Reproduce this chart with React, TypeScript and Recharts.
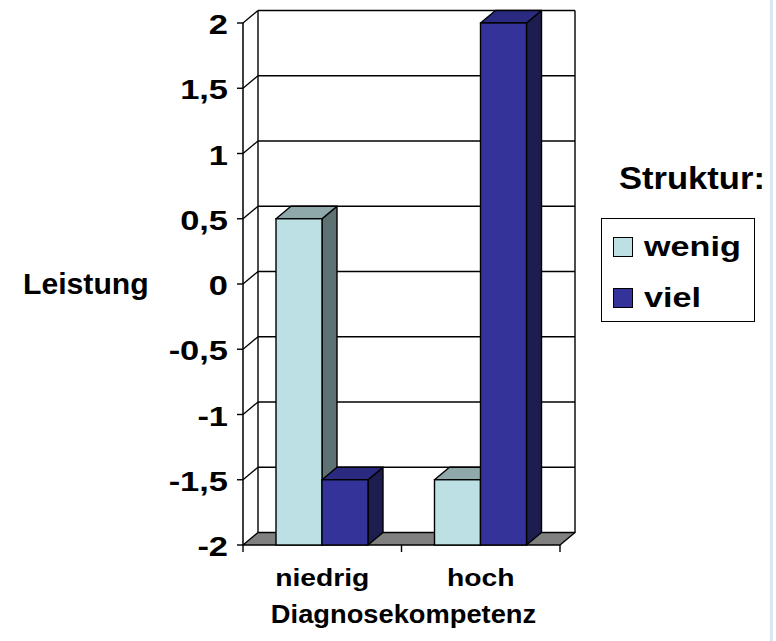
import React from 'react';
import { BarChart, Bar, XAxis, YAxis, CartesianGrid, Legend } from 'recharts';

// ---- data ----
const categories = ['niedrig', 'hoch'];
const wenigValues = [0.5, -1.5];
const vielValues = [-1.5, 2];
const seriesNames = ['wenig', 'viel'];
const yTicks = [-2, -1.5, -1, -0.5, 0, 0.5, 1, 1.5, 2];
const yMin = -2;
const yMax = 2;
const yTitle = 'Leistung';
const xTitle = 'Diagnosekompetenz';
const legendTitle = 'Struktur:';

const data = categories.map((c, i) => ({
  category: c,
  wenig: [yMin, wenigValues[i]],
  viel: [yMin, vielValues[i]],
}));

// ---- style ----
const FONT = '"Liberation Sans", Arial, Helvetica, sans-serif';
const DX = 15;
const DY = 12.5;
const X_TICK_SIZE = 7;
const X_TICK_MARGIN = 18;
const CHART_SX = 1.23; // horizontal stretch of chart-object texts

const palette: Record<string, { front: string; top: string; side: string }> = {
  wenig: { front: '#BCE0E3', top: '#8FA9AB', side: '#5E7173' },
  viel: { front: '#333399', top: '#2A2A80', side: '#1D1D4F' },
};

const fmt = (v: number) => String(v).replace('.', ',');

const makeBarShape = (name: string) => (props: any) => {
  const c = palette[name];
  const { x, y, width, height } = props;
  if (width == null || height == null) return null;
  const top = y;
  const bottom = y + height;
  const r = x + width;
  const sw = 1.4;
  return (
    <g>
      <polygon
        points={`${r},${top} ${r + DX},${top - DY} ${r + DX},${bottom - DY} ${r},${bottom}`}
        fill={c.side}
        stroke="#000"
        strokeWidth={sw}
        strokeLinejoin="round"
      />
      <polygon
        points={`${x},${top} ${x + DX},${top - DY} ${r + DX},${top - DY} ${r},${top}`}
        fill={c.top}
        stroke="#000"
        strokeWidth={sw}
        strokeLinejoin="round"
      />
      <rect x={x} y={top} width={width} height={height} fill={c.front} stroke="#000" strokeWidth={sw} />
    </g>
  );
};

const GridLine = (props: any) => {
  const { x1, y1, x2, horizontalPoints } = props;
  let top = props.y;
  let bottom = props.y != null && props.height != null ? props.y + props.height : undefined;
  if (top == null || bottom == null) {
    top = Math.min(...horizontalPoints);
    bottom = Math.max(...horizontalPoints);
  }
  const isBottom = Math.abs(y1 - bottom) < 0.5;
  const isTop = Math.abs(y1 - top) < 0.5;
  const els: any[] = [];
  if (isBottom) {
    els.push(
      <polygon
        key="floor"
        points={`${x1},${y1} ${x2},${y1} ${x2 + DX},${y1 - DY} ${x1 + DX},${y1 - DY}`}
        fill="#808080"
        stroke="#000"
        strokeWidth={1.4}
        strokeLinejoin="round"
      />
    );
  } else {
    els.push(<line key="h" x1={x1 + DX} y1={y1 - DY} x2={x2 + DX} y2={y1 - DY} stroke="#000" strokeWidth={1.3} />);
    els.push(<line key="d" x1={x1} y1={y1} x2={x1 + DX} y2={y1 - DY} stroke="#000" strokeWidth={1.3} />);
  }
  if (isTop) {
    els.push(<line key="lw" x1={x1 + DX} y1={top - DY} x2={x1 + DX} y2={bottom - DY} stroke="#000" strokeWidth={1.4} />);
    els.push(<line key="rw" x1={x2 + DX} y1={top - DY} x2={x2 + DX} y2={bottom - DY} stroke="#000" strokeWidth={1.4} />);
  }
  return <g key={props.key}>{els}</g>;
};

const StretchText = ({ x, y, sx, anchor, size, dy, children }: any) => (
  <g transform={`translate(${x},${y}) scale(${sx},1)`}>
    <text x={0} y={0} dy={dy} textAnchor={anchor} fontFamily={FONT} fontWeight="bold" fontSize={size} fill="#000">
      {children}
    </text>
  </g>
);

const XTick = (props: any) => {
  const { x, y, payload, index, visibleTicksCount } = props;
  const half = payload && payload.offset ? payload.offset : 0;
  const axisY = y - X_TICK_SIZE - X_TICK_MARGIN;
  const last = index === (visibleTicksCount ?? categories.length) - 1;
  return (
    <g>
      <line x1={x - half} y1={axisY} x2={x - half} y2={axisY + X_TICK_SIZE} stroke="#000" strokeWidth={1.4} />
      {last && (
        <line x1={x + half} y1={axisY} x2={x + half} y2={axisY + X_TICK_SIZE} stroke="#000" strokeWidth={1.4} />
      )}
      <StretchText x={x} y={y} sx={CHART_SX} anchor="middle" size={23} dy="0.71em">
        {payload.value}
      </StretchText>
    </g>
  );
};

const YTick = (props: any) => {
  const { x, y, payload } = props;
  return (
    <StretchText x={x} y={y + 1} sx={CHART_SX} anchor="end" size={28} dy="0.36em">
      {fmt(payload.value)}
    </StretchText>
  );
};

const YTitle = (props: any) => {
  const vb = props.viewBox || {};
  return (
    <StretchText x={vb.x + 23} y={vb.y + vb.height / 2} sx={1.04} anchor="start" size={29} dy="0.36em">
      {yTitle}
    </StretchText>
  );
};

const XTitle = (props: any) => {
  const vb = props.viewBox || {};
  return (
    <StretchText x={vb.x + vb.width / 2 + 2} y={vb.y + vb.height - 18} sx={1.05} anchor="middle" size={26} dy={0}>
      {xTitle}
    </StretchText>
  );
};

const LegendContent = (props: any) => {
  const payload = [...(props.payload || [])].sort(
    (a: any, b: any) => seriesNames.indexOf(a.value) - seriesNames.indexOf(b.value)
  );
  return (
    <div style={{ position: 'relative', width: 154, height: 104, fontFamily: FONT }}>
      <div
        style={{
          position: 'absolute',
          left: 18,
          top: -58,
          fontWeight: 'bold',
          fontSize: 32,
          lineHeight: '36px',
          whiteSpace: 'nowrap',
          color: '#000',
          transform: 'scaleX(1.08)',
          transformOrigin: 'left center',
        }}
      >
        {legendTitle}
      </div>
      <div
        style={{
          boxSizing: 'border-box',
          width: 154,
          height: 104,
          border: '1.5px solid #000',
          paddingTop: 2,
          background: '#fff',
        }}
      >
        {payload.map((entry: any) => (
          <div key={entry.value} style={{ display: 'flex', alignItems: 'center', height: 51 }}>
            <span
              style={{
                display: 'inline-block',
                boxSizing: 'border-box',
                marginLeft: 11,
                width: 20,
                height: 20,
                background: entry.color,
                border: '1.5px solid #000',
                flex: 'none',
              }}
            />
            <span
              style={{
                marginLeft: 11,
                fontWeight: 'bold',
                fontSize: 28,
                lineHeight: '32px',
                color: '#000',
                display: 'inline-block',
                transform: `scaleX(${CHART_SX - 0.01})`,
                transformOrigin: 'left center',
                whiteSpace: 'nowrap',
              }}
            >
              {entry.value}
            </span>
          </div>
        ))}
      </div>
    </div>
  );
};

export default function App() {
  return (
    <div style={{ position: 'absolute', left: 0, top: 0, width: 776, height: 641, background: '#fff' }}>
      <BarChart
        width={776}
        height={641}
        data={data}
        margin={{ top: 23, right: 216, bottom: 0, left: 0 }}
        barGap={0}
        barSize={46}
      >
        <CartesianGrid horizontal={GridLine as any} vertical={false} />
        <XAxis
          dataKey="category"
          height={96}
          axisLine={false}
          tickLine={false}
          tickSize={X_TICK_SIZE}
          tickMargin={X_TICK_MARGIN}
          tick={<XTick />}
          interval={0}
          label={<XTitle />}
        />
        <YAxis
          type="number"
          domain={[yMin, yMax]}
          ticks={yTicks}
          interval={0}
          width={243}
          axisLine={{ stroke: '#000', strokeWidth: 1.5 }}
          tickLine={{ stroke: '#000', strokeWidth: 1.4 }}
          tickSize={6}
          tickMargin={9}
          tick={<YTick />}
          label={<YTitle />}
        />
        <Legend
          layout="horizontal"
          align="center"
          verticalAlign="middle"
          content={<LegendContent />}
          wrapperStyle={{ position: 'absolute', left: 601, top: 218, width: 154, height: 104 }}
        />
        {seriesNames.map((name) => (
          <Bar
            key={name}
            dataKey={name}
            name={name}
            fill={palette[name].front}
            shape={makeBarShape(name)}
            isAnimationActive={false}
          />
        ))}
      </BarChart>
      <div style={{ position: 'absolute', left: 770, top: 0, width: 3, height: 641, background: '#DCE6F2' }} />
    </div>
  );
}
